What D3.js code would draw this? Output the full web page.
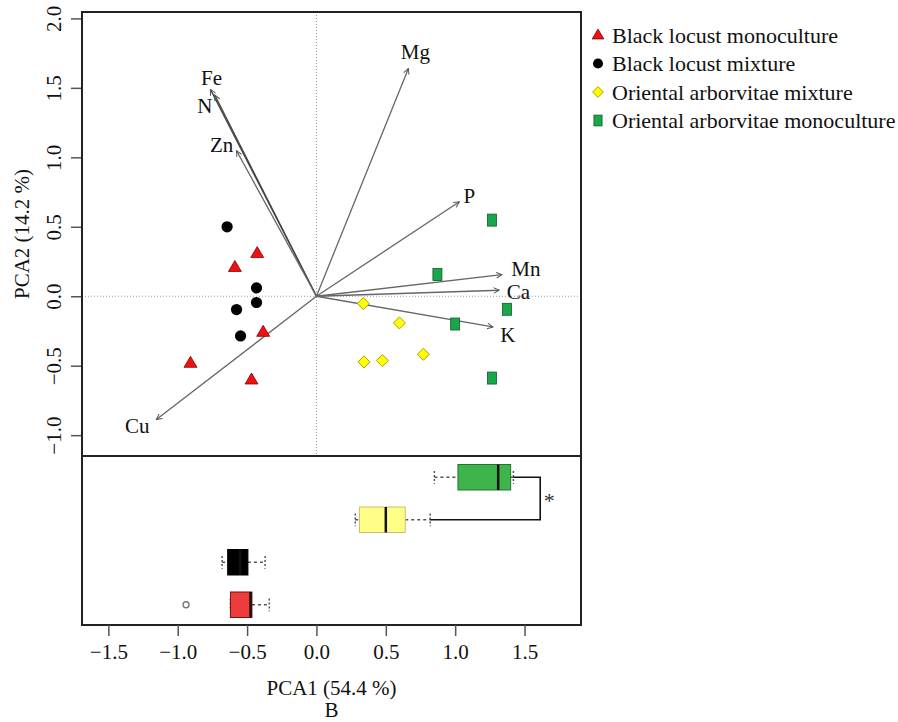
<!DOCTYPE html>
<html lang="en">
<head>
<meta charset="UTF-8">
<title>PCA biplot</title>
<script src="https://d3js.org/d3.v7.min.js"></script>
<style>
  body { margin: 0; background: #fff; }
  svg { display: block; font-family: 'Liberation Serif', 'DejaVu Serif', serif; }
</style>
</head>
<body>
<svg width="898" height="722"></svg>
<script>
// groups (legend order)
const groups = ["Black locust monoculture", "Black locust mixture",
                "Oriental arborvitae mixture", "Oriental arborvitae monoculture"];

// sample scores, one array per group
const blmX = [-0.427, -0.588, -0.384, -0.908, -0.468];
const blmY = [0.31, 0.21, -0.257, -0.48, -0.60];
const blxX = [-0.644, -0.432, -0.432, -0.576, -0.547];
const blxY = [0.50, 0.06, -0.045, -0.096, -0.286];
const oaxX = [0.338, 0.598, 0.343, 0.475, 0.771];
const oaxY = [-0.053, -0.192, -0.473, -0.463, -0.418];
const oamX = [1.265, 0.872, 1.373, 1.0, 1.265];
const oamY = [0.548, 0.156, -0.094, -0.20, -0.589];

// loadings (arrows)
const vars  = ["Mg", "P", "Mn", "Ca", "K", "Fe", "N", "Zn", "Cu"];
const loadX = [0.663, 1.03, 1.337, 1.318, 1.272, -0.764, -0.733, -0.576, -1.154];
const loadY = [1.64, 0.68, 0.156, 0.043, -0.221, 1.489, 1.448, 1.047, -0.888];

// boxplot of PCA1 per group (bottom to top: group index 1..4)
const boxLow  = [-0.62, -0.68, 0.28, 0.85];
const boxQ1   = [-0.62, -0.64, 0.31, 1.02];
const boxMed  = [-0.475, -0.55, 0.50, 1.31];
const boxQ3   = [-0.465, -0.494, 0.64, 1.40];
const boxHigh = [-0.34, -0.37, 0.82, 1.42];
const outX = [-0.94];
const outGroup = [0];

const xTicks = [-1.5, -1.0, -0.5, 0.0, 0.5, 1.0, 1.5];
const yTicks = [-1.0, -0.5, 0.0, 0.5, 1.0, 1.5, 2.0];

const svg = d3.select("svg");
const pLeft = 82, pRight = 581, pTop = 12, pMid = 456, pBottom = 625;

const x = d3.scaleLinear().domain([-1.69, 1.907]).range([pLeft, pRight]);
const y = d3.scaleLinear().domain([-1.15, 2.046]).range([pMid, pTop]);
const yb = d3.scaleLinear().domain([0.5, 4.5]).range([626, pMid]);

const ptFill   = ["#ee1111", "#000000", "#ffff00", "#1aa64a"];
const ptStroke = ["#8a0000", "#000000", "#a9a300", "#0d5c27"];
const bxFill   = ["#ee3b3b", "#000000", "#ffff88", "#3db54a"];
const bxStroke = ["#7a1010", "#000000", "#c8c070", "#2a6f35"];

function marker(g, i, cx, cy, s) {
  // s = scale factor (1 for plot, a bit smaller for legend)
  if (i === 0) {
    const h = 11 * s, w = 13 * s;
    g.append("path").attr("d", `M${cx},${cy - h * 0.6}L${cx + w / 2},${cy + h * 0.4}L${cx - w / 2},${cy + h * 0.4}Z`)
      .attr("fill", ptFill[i]).attr("stroke", ptStroke[i]).attr("stroke-width", 0.8);
  } else if (i === 1) {
    g.append("circle").attr("cx", cx).attr("cy", cy).attr("r", 5.6 * s).attr("fill", ptFill[i]);
  } else if (i === 2) {
    const r = 6 * s;
    g.append("path").attr("d", `M${cx},${cy - r}L${cx + r},${cy}L${cx},${cy + r}L${cx - r},${cy}Z`)
      .attr("fill", ptFill[i]).attr("stroke", ptStroke[i]).attr("stroke-width", 1);
  } else {
    const w = 9 * s, h = 12 * s;
    g.append("rect").attr("x", cx - w / 2).attr("y", cy - h / 2).attr("width", w).attr("height", h)
      .attr("fill", ptFill[i]).attr("stroke", ptStroke[i]).attr("stroke-width", 0.8);
  }
}

// zero reference lines
svg.append("line").attr("x1", x(0)).attr("x2", x(0)).attr("y1", pTop).attr("y2", pMid)
  .attr("stroke", "#999").attr("stroke-dasharray", "1,2");
svg.append("line").attr("x1", pLeft).attr("x2", pRight).attr("y1", y(0)).attr("y2", y(0))
  .attr("stroke", "#999").attr("stroke-dasharray", "1,2");

// arrows
svg.append("defs").append("marker")
  .attr("id", "ah").attr("viewBox", "0 0 10 10").attr("refX", 9).attr("refY", 5)
  .attr("markerWidth", 7).attr("markerHeight", 7).attr("markerUnits", "userSpaceOnUse")
  .attr("orient", "auto")
  .append("path").attr("d", "M1,1L9,5L1,9").attr("fill", "none").attr("stroke", "#555").attr("stroke-width", 1.4);

const nudge = {Mg: [7, -16], P: [10, -6], Mn: [24, -6], Ca: [19, 2], K: [15, 8],
               Fe: [1, -11], N: [-10, 11], Zn: [-15, -6], Cu: [-19, 6]};

vars.forEach((v, i) => {
  svg.append("line").attr("x1", x(0)).attr("y1", y(0)).attr("x2", x(loadX[i])).attr("y2", y(loadY[i]))
    .attr("stroke", i === 5 || i === 6 ? "#444" : "#666").attr("stroke-width", 1.3)
    .attr("marker-end", "url(#ah)");
  svg.append("text").attr("x", x(loadX[i]) + nudge[v][0]).attr("y", y(loadY[i]) + nudge[v][1])
    .attr("text-anchor", "middle").attr("dominant-baseline", "central")
    .attr("font-size", 21).attr("fill", "#111").text(v);
});

// points
const ptX = [blmX, blxX, oaxX, oamX], ptY = [blmY, blxY, oaxY, oamY];
const pts = svg.append("g");
[1, 0, 2, 3].forEach(i => {
  ptX[i].forEach((vx, j) => marker(pts, i, x(vx), y(ptY[i][j]), 1));
});

// boxplots
const bw = 0.3; // half box width in group units
const bx = svg.append("g");
groups.forEach((gname, i) => {
  const c = yb(i + 1);
  const hh = yb(0) - yb(bw); // half height in px
  bx.append("line").attr("x1", x(boxLow[i])).attr("x2", x(boxQ1[i])).attr("y1", c).attr("y2", c)
    .attr("stroke", "#555").attr("stroke-width", 1.5).attr("stroke-dasharray", "3,3");
  bx.append("line").attr("x1", x(boxQ3[i])).attr("x2", x(boxHigh[i])).attr("y1", c).attr("y2", c)
    .attr("stroke", "#555").attr("stroke-width", 1.5).attr("stroke-dasharray", "3,3");
  [boxLow[i], boxHigh[i]].forEach(v => {
    bx.append("line").attr("x1", x(v)).attr("x2", x(v)).attr("y1", c - hh / 2).attr("y2", c + hh / 2)
      .attr("stroke", "#555").attr("stroke-width", 1.5).attr("stroke-dasharray", "2,2");
  });
  bx.append("rect").attr("x", x(boxQ1[i])).attr("y", c - hh).attr("width", x(boxQ3[i]) - x(boxQ1[i]))
    .attr("height", 2 * hh).attr("fill", bxFill[i]).attr("stroke", bxStroke[i]).attr("stroke-width", 1);
  bx.append("line").attr("x1", x(boxMed[i])).attr("x2", x(boxMed[i])).attr("y1", c - hh).attr("y2", c + hh)
    .attr("stroke", "#111").attr("stroke-width", 2.5);
});
outX.forEach((v, k) => {
  bx.append("circle").attr("cx", x(v)).attr("cy", yb(outGroup[k] + 1)).attr("r", 3)
    .attr("fill", "none").attr("stroke", "#777").attr("stroke-width", 1.3);
});

// significance bracket between the two arborvitae groups
const bracketX = 1.613;
svg.append("path")
  .attr("d", `M${x(boxHigh[3])},${yb(4)}H${x(bracketX)}V${yb(3)}H${x(boxHigh[2])}`)
  .attr("fill", "none").attr("stroke", "#111").attr("stroke-width", 1.6);
svg.append("text").attr("x", x(bracketX) + 9).attr("y", (yb(4) + yb(3)) / 2 + 9)
  .attr("text-anchor", "middle").attr("font-size", 22).attr("fill", "#333").text("*");

// frames
svg.append("rect").attr("x", pLeft).attr("y", pTop).attr("width", pRight - pLeft).attr("height", pMid - pTop)
  .attr("fill", "none").attr("stroke", "#222").attr("stroke-width", 2);
svg.append("rect").attr("x", pLeft).attr("y", pMid).attr("width", pRight - pLeft).attr("height", pBottom - pMid)
  .attr("fill", "none").attr("stroke", "#222").attr("stroke-width", 2);

// axes
const fmt = d3.format(".1f");
const ax = svg.append("g").attr("transform", `translate(0,${pBottom})`)
  .call(d3.axisBottom(x).tickValues(xTicks).tickFormat(fmt).tickSize(11).tickPadding(8));
ax.select(".domain").remove();
ax.selectAll("line").attr("stroke", "#555").attr("stroke-width", 1.5);
ax.selectAll("text").attr("font-size", 21).attr("fill", "#111").attr("font-family", "Liberation Serif");

const ay = svg.append("g").attr("transform", `translate(${pLeft - 1},0)`)
  .call(d3.axisLeft(y).tickValues(yTicks).tickFormat(fmt).tickSize(10));
ay.select(".domain").remove();
ay.selectAll("line").attr("stroke", "#555").attr("stroke-width", 1.5);
ay.selectAll("text").attr("x", 0).attr("y", 0).attr("dy", 0)
  .attr("text-anchor", "middle").attr("transform", "translate(-20,0) rotate(-90)")
  .attr("font-size", 21).attr("fill", "#111").attr("font-family", "Liberation Serif");

// axis titles
svg.append("text").attr("x", (pLeft + pRight) / 2).attr("y", 695).attr("text-anchor", "middle")
  .attr("font-size", 21).attr("fill", "#111").text("PCA1 (54.4 %)");
svg.append("text").attr("x", (pLeft + pRight) / 2).attr("y", 717).attr("text-anchor", "middle")
  .attr("font-size", 21).attr("fill", "#111").text("B");
svg.append("text").attr("transform", `translate(29,${(pTop + pMid) / 2}) rotate(-90)`)
  .attr("text-anchor", "middle").attr("font-size", 21).attr("fill", "#111").text("PCA2 (14.2 %)");

// legend
const lg = svg.append("g");
groups.forEach((gname, i) => {
  const ly = 35 + i * 28.5;
  marker(lg, i, 598, ly, 0.9);
  lg.append("text").attr("x", 612).attr("y", ly).attr("dominant-baseline", "central")
    .attr("font-size", 22).attr("fill", "#111").text(gname);
});
</script>
</body>
</html>
